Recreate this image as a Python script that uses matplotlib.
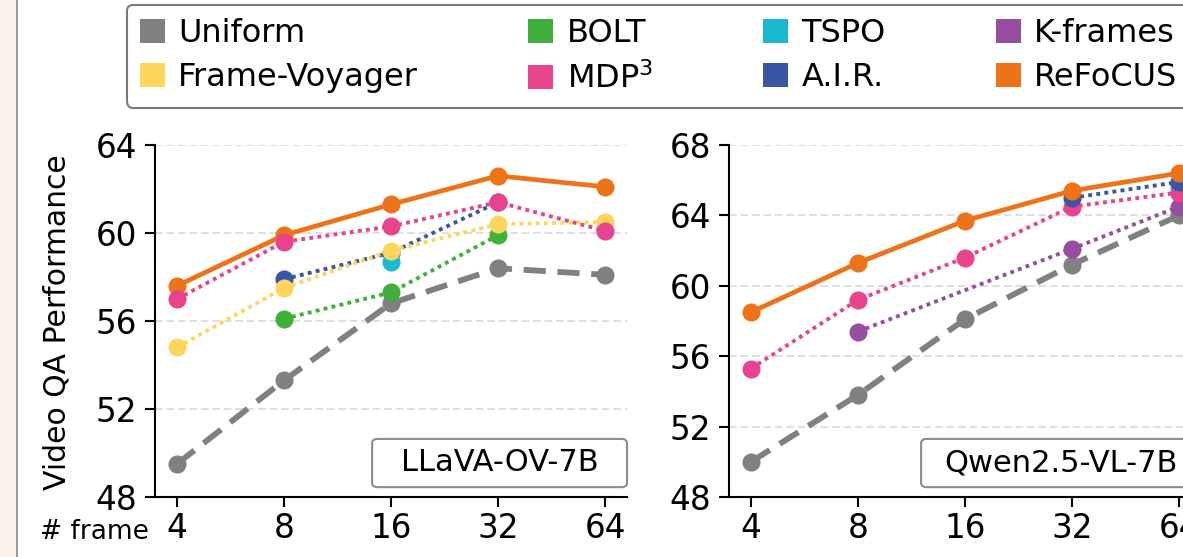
import numpy as np
import matplotlib
matplotlib.use("Agg")
import matplotlib.pyplot as plt
from matplotlib.patches import Patch, Rectangle, FancyBboxPatch
from matplotlib.lines import Line2D

plt.rcParams['font.family'] = ['DejaVu Sans']

frames = [4, 8, 16, 32, 64]
tick_labels = ['4', '8', '16', '32', '64']

# LLaVA-OV-7B panel
llava_uniform_x = [4, 8, 16, 32, 64]
llava_uniform_y = [49.5, 53.3, 56.8, 58.4, 58.1]
llava_fv_x = [4, 8, 16, 32, 64]
llava_fv_y = [54.8, 57.5, 59.2, 60.4, 60.5]
llava_bolt_x = [8, 16, 32]
llava_bolt_y = [56.1, 57.3, 59.9]
llava_mdp_x = [4, 8, 16, 32, 64]
llava_mdp_y = [57.0, 59.6, 60.3, 61.4, 60.1]
llava_tspo_x = [16]
llava_tspo_y = [58.7]
llava_air_x = [8, 16, 32]
llava_air_y = [57.9, 59.1, 61.4]
llava_refocus_x = [4, 8, 16, 32, 64]
llava_refocus_y = [57.6, 59.9, 61.3, 62.6, 62.1]

# Qwen2.5-VL-7B panel
qwen_uniform_x = [4, 8, 16, 32, 64]
qwen_uniform_y = [50.0, 53.8, 58.1, 61.2, 64.0]
qwen_mdp_x = [4, 8, 16, 32, 64]
qwen_mdp_y = [55.3, 59.2, 61.6, 64.5, 65.3]
qwen_kframes_x = [8, 32, 64]
qwen_kframes_y = [57.4, 62.1, 64.5]
qwen_air_x = [32, 64]
qwen_air_y = [65.0, 65.9]
qwen_tspo_x = [64]
qwen_tspo_y = [65.6]
qwen_refocus_x = [4, 8, 16, 32, 64]
qwen_refocus_y = [58.5, 61.3, 63.7, 65.4, 66.4]

names = ['Uniform', 'Frame-Voyager', 'BOLT', 'MDP$^3$', 'TSPO', 'A.I.R.', 'K-frames', 'ReFoCUS']
colors = {'Uniform': '#808080', 'Frame-Voyager': '#fdd65c', 'BOLT': '#3fb03a',
          'MDP$^3$': '#e8438c', 'TSPO': '#19b9d0', 'A.I.R.': '#3a55a4',
          'K-frames': '#984ea0', 'ReFoCUS': '#ee7218'}

dotted = (0, (1, 1.1))


def draw(ax, series):
    for name, xs, ys, z in series:
        c = colors[name]
        if name == 'Uniform':
            ax.plot(xs, ys, color=c, lw=4.2, dashes=(3.8, 2), marker='o', ms=12, zorder=z)
        elif name == 'ReFoCUS':
            ax.plot(xs, ys, color=c, lw=3.4, ls='-', marker='o', ms=12, zorder=z)
        else:
            ax.plot(xs, ys, color=c, lw=2.8, ls=dotted, marker='o', ms=12, zorder=z)


fig = plt.figure(figsize=(11.83, 5.57), dpi=100)
W, H = 1183, 557
ax1 = fig.add_axes([155 / W, 60 / H, 472 / W, 352 / H])
ax2 = fig.add_axes([729 / W, 60 / H, 472 / W, 352 / H])

draw(ax1, [('Uniform', llava_uniform_x, llava_uniform_y, 3),
           ('A.I.R.', llava_air_x, llava_air_y, 3.5),
           ('TSPO', llava_tspo_x, llava_tspo_y, 4),
           ('BOLT', llava_bolt_x, llava_bolt_y, 4.5),
           ('Frame-Voyager', llava_fv_x, llava_fv_y, 5),
           ('ReFoCUS', llava_refocus_x, llava_refocus_y, 5.5),
           ('MDP$^3$', llava_mdp_x, llava_mdp_y, 6)])
draw(ax2, [('Uniform', qwen_uniform_x, qwen_uniform_y, 3),
           ('K-frames', qwen_kframes_x, qwen_kframes_y, 3.5),
           ('TSPO', qwen_tspo_x, qwen_tspo_y, 4),
           ('MDP$^3$', qwen_mdp_x, qwen_mdp_y, 4.5),
           ('A.I.R.', qwen_air_x, qwen_air_y, 5),
           ('ReFoCUS', qwen_refocus_x, qwen_refocus_y, 6)])

for ax, lo, hi, label in [(ax1, 48, 64, 'LLaVA-OV-7B'), (ax2, 48, 68, 'Qwen2.5-VL-7B')]:
    ax.set_xscale('log', base=2)
    ax.set_xlim(4 * 2 ** -0.205, 64 * 2 ** 0.205)
    ax.set_xticks(frames)
    ax.set_xticklabels(tick_labels)
    ax.xaxis.set_minor_locator(matplotlib.ticker.NullLocator())
    ax.set_ylim(lo, hi)
    ax.set_yticks(np.arange(lo, hi + 1, 4))
    ax.grid(axis='y', color='#d6d6d6', ls=(0, (5, 2.5)), lw=1.1, zorder=0)
    ax.spines['top'].set_visible(False)
    ax.spines['right'].set_visible(False)
    for s in ('left', 'bottom'):
        ax.spines[s].set_linewidth(1.5)
    ax.tick_params(axis='both', labelsize=23.5, length=7, width=1.5)
    ax.tick_params(axis='y', pad=6)
    ax.tick_params(axis='x', pad=4)
    bx = 0.46 if ax is ax1 else 0.407
    box = FancyBboxPatch((bx, 0.028), 1.0 - bx, 0.137, transform=ax.transAxes,
                         boxstyle='round,pad=0,rounding_size=0.012', facecolor='white',
                         edgecolor='#8c8c8c', lw=1.5, zorder=8, clip_on=False)
    ax.add_patch(box)
    ax.text((bx + 1.0) / 2, 0.0966, label, transform=ax.transAxes, fontsize=22,
            ha='center', va='center', zorder=9)

fig.text(57 / W, 1 - 322 / H, 'Video QA Performance', rotation=90, fontsize=21.5,
         ha='center', va='center')
fig.text(94 / W, 1 - 532 / H, '# frame', fontsize=19, ha='center', va='center')

handles = [Patch(facecolor=colors[n], edgecolor='none', label=n) for n in names]
leg = fig.legend(handles=handles, loc='upper left', bbox_to_anchor=(127 / W, 1 - 5 / H),
                 ncol=4, fontsize=23, frameon=True, fancybox=True, framealpha=1,
                 edgecolor='#7a7a7a', handlelength=0.78, handleheight=0.78,
                 handletextpad=0.42, columnspacing=3.45, borderpad=0.4,
                 labelspacing=0.42, borderaxespad=0)
leg.get_frame().set_linewidth(1.5)

# cropped page background at the left edge
fig.patches.append(Rectangle((0, 0), 16 / W, 1, transform=fig.transFigure,
                             facecolor='#fdf3ee', edgecolor='none', zorder=-1))
fig.lines.append(Line2D([17 / W, 17 / W], [0, 1], transform=fig.transFigure,
                        color='#8a8a8a', lw=1.2))

fig.savefig('out.png', dpi=100)
